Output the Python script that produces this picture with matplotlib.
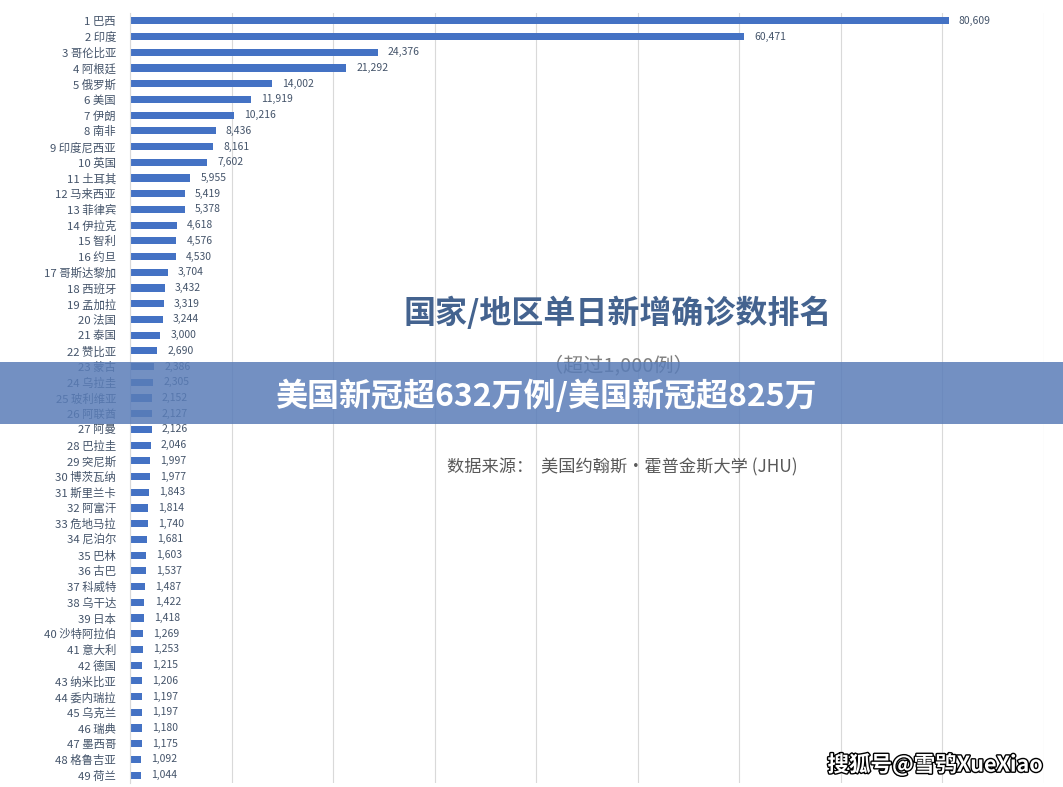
import matplotlib.pyplot as plt
import matplotlib.patheffects as pe
from matplotlib.patches import Rectangle

plt.rcParams['font.family'] = ['Noto Sans CJK SC', 'DejaVu Sans']

countries = ['巴西', '印度', '哥伦比亚', '阿根廷', '俄罗斯', '美国', '伊朗', '南非', '印度尼西亚', '英国',
             '土耳其', '马来西亚', '菲律宾', '伊拉克', '智利', '约旦', '哥斯达黎加', '西班牙', '孟加拉', '法国',
             '泰国', '赞比亚', '蒙古', '乌拉圭', '玻利维亚', '阿联酋', '阿曼', '巴拉圭', '突尼斯', '博茨瓦纳',
             '斯里兰卡', '阿富汗', '危地马拉', '尼泊尔', '巴林', '古巴', '科威特', '乌干达', '日本', '沙特阿拉伯',
             '意大利', '德国', '纳米比亚', '委内瑞拉', '乌克兰', '瑞典', '墨西哥', '格鲁吉亚', '荷兰']
cases = [80609, 60471, 24376, 21292, 14002, 11919, 10216, 8436, 8161, 7602,
         5955, 5419, 5378, 4618, 4576, 4530, 3704, 3432, 3319, 3244,
         3000, 2690, 2386, 2305, 2152, 2127, 2126, 2046, 1997, 1977,
         1843, 1814, 1740, 1681, 1603, 1537, 1487, 1422, 1418, 1269,
         1253, 1215, 1206, 1197, 1197, 1180, 1175, 1092, 1044]

labels = [f'{i + 1} {c}' for i, c in enumerate(countries)]
pos = list(range(len(cases)))

fig = plt.figure(figsize=(10.63, 7.87), dpi=100)
ax = fig.add_axes([130 / 1063, 4 / 787, (1044 - 130) / 1063, 770 / 787])

ax.barh(pos, cases, height=0.45, color='#4472c4', zorder=2)
ax.set_ylim(len(cases) - 0.5, -0.5)
ax.set_xlim(0, 90000)
ax.set_yticks(pos)
ax.set_yticklabels(labels, fontsize=8.2, color='#44546a')
ax.tick_params(axis='y', length=0, pad=10)
ax.set_xticks(range(0, 90001, 10000))
ax.tick_params(axis='x', length=0, labelbottom=False)
ax.grid(axis='x', color='#d9d9d9', linewidth=0.8, zorder=0)
for s in ['top', 'right', 'bottom']:
    ax.spines[s].set_visible(False)
ax.spines['left'].set_color('#d9d9d9')

for p, v in zip(pos, cases):
    ax.text(v + 1000, p, f'{v:,}', va='center', ha='left', fontsize=7.5,
            color='#44546a', zorder=3)

fig.text(618 / 1063, 1 - 313 / 787, '国家/地区单日新增确诊数排名', ha='center', va='center',
         fontsize=23, fontweight='bold', color='#44638f')
fig.text(618 / 1063, 1 - 366 / 787, '（超过1,000例）', ha='center', va='center',
         fontsize=14.5, color='#7f7f7f')
fig.text(622 / 1063, 1 - 467 / 787, '数据来源：  美国约翰斯·霍普金斯大学 (JHU)', ha='center', va='center',
         fontsize=12.4, color='#595959')

fig.patches.append(Rectangle((0, 1 - 424 / 787), 1, 62 / 787, transform=fig.transFigure,
                             facecolor='#5a7db8', alpha=0.85, zorder=5))
fig.text(546 / 1063, 1 - 396 / 787, '美国新冠超632万例/美国新冠超825万', ha='center', va='center',
         fontsize=23, fontweight='heavy', color='white', zorder=6)

fig.text(935 / 1063, 1 - 765 / 787, '搜狐号@雪鸮XueXiao', ha='center', va='center',
         fontsize=15.5, fontweight='bold', color='white', zorder=6,
         path_effects=[pe.withStroke(linewidth=2, foreground='black')])

fig.savefig('out.png', dpi=100)
